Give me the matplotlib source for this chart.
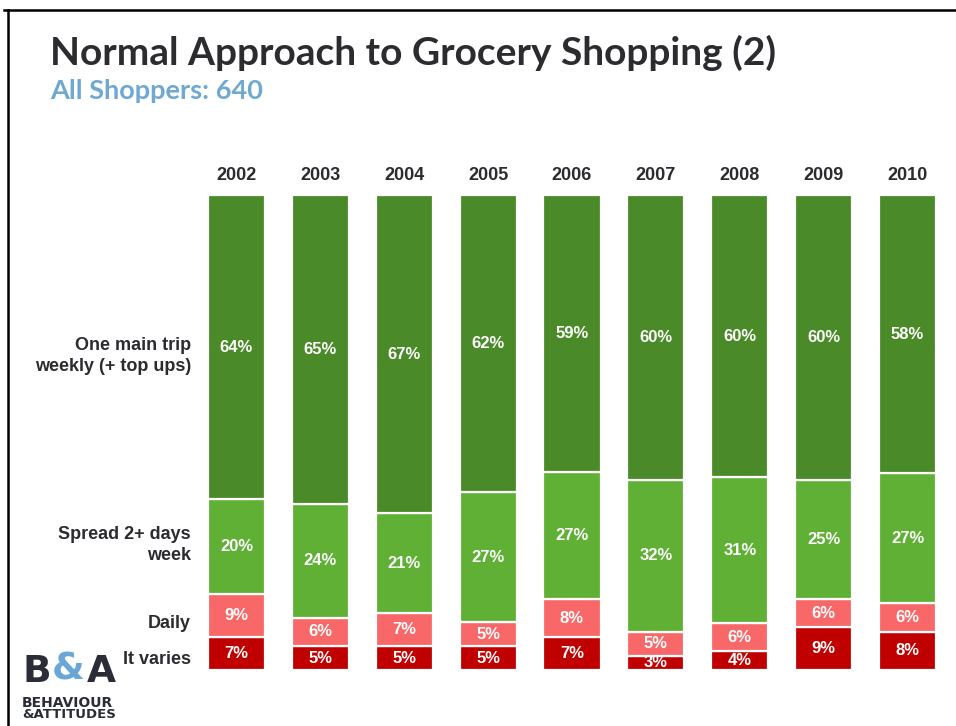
import numpy as np
import matplotlib
matplotlib.use('Agg')
import matplotlib.pyplot as plt
from matplotlib.lines import Line2D

plt.rcParams['font.family'] = ['Liberation Sans', 'DejaVu Sans']

years = ['2002', '2003', '2004', '2005', '2006', '2007', '2008', '2009', '2010']
it_varies = [7, 5, 5, 5, 7, 3, 4, 9, 8]
daily = [9, 6, 7, 5, 8, 5, 6, 6, 6]
spread = [20, 24, 21, 27, 27, 32, 31, 25, 27]
one_main = [64, 65, 67, 62, 59, 60, 60, 60, 58]

categories = ['It varies', 'Daily', 'Spread 2+ days\nweek', 'One main trip\nweekly (+ top ups)']
colors = ['#c00000', '#f86868', '#5fb034', '#4a8a28']

W, H = 956, 726
fig = plt.figure(figsize=(W / 100, H / 100), dpi=100)
fig.patch.set_facecolor('white')

# axes placed so bars line up with the slide
ax = fig.add_axes([194.5 / W, 56 / H, 755 / W, 475 / H])
ax.set_xlim(-0.5, 8.5)
ax.set_ylim(0, 100)
ax.axis('off')

series = np.array([it_varies, daily, spread, one_main], dtype=float)
totals = series.sum(axis=0)
shares = series / totals * 100  # 100% stacked

x = np.arange(len(years))
bottom = np.zeros(len(years))
for k in range(len(series)):
    bars = ax.bar(x, shares[k], 0.68, bottom=bottom, color=colors[k],
                  edgecolor='white', linewidth=1.6)
    for i, b in enumerate(bars):
        ax.text(x[i], bottom[i] + shares[k][i] / 2, '%d%%' % series[k][i],
                ha='center', va='center', color='white', fontsize=12,
                fontweight='bold')
    bottom += shares[k]

for i, yr in enumerate(years):
    ax.text(x[i], 104.2, yr, ha='center', va='center', fontsize=13,
            fontweight='bold', color='#2b2b30', clip_on=False)

# row labels on the left
label_y = [659, 624, 545, 356]
for lab, py in zip(categories, label_y):
    fig.text(191 / W, 1 - py / H, lab, ha='right', va='center', fontsize=13,
             fontweight='bold', color='#2b2b30', linespacing=1.25)

# title block
fig.text(50 / W, 1 - 53 / H, 'Normal Approach to Grocery Shopping (2)',
         ha='left', va='center', fontsize=28, fontweight='bold',
         family=['Lato', 'DejaVu Sans'], color='#2b2b30')
fig.text(50 / W, 1 - 91 / H, 'All Shoppers: 640', ha='left', va='center',
         fontsize=19.5, fontweight='bold', family=['Lato', 'DejaVu Sans'],
         color='#6fa8d0')

# slide frame
fig.add_artist(Line2D([4 / W, 1], [1 - 10 / H, 1 - 10 / H], color='black',
                      linewidth=1.8, transform=fig.transFigure))
fig.add_artist(Line2D([8 / W, 8 / W], [0, 1 - 10 / H], color='black',
                      linewidth=1.8, transform=fig.transFigure))

# logo
logo_font = ['DejaVu Sans']
fig.text(22 / W, 1 - 672 / H, 'B', ha='left', va='center', fontsize=27,
         fontweight='bold', family=logo_font, color='#2a2c38')
fig.text(68 / W, 1 - 670 / H, '&', ha='center', va='center', fontsize=27,
         fontweight='bold', family=logo_font, color='#6aa6d6')
fig.text(116 / W, 1 - 672 / H, 'A', ha='right', va='center', fontsize=27,
         fontweight='bold', family=logo_font, color='#2a2c38')
fig.text(22 / W, 1 - 703 / H, 'BEHAVIOUR', ha='left', va='center',
         fontsize=10, fontweight='bold', family=logo_font, color='#2a2c38')
fig.text(22 / W, 1 - 715 / H, '&ATTITUDES', ha='left', va='center',
         fontsize=9.5, fontweight='bold', family=logo_font, color='#2a2c38')

fig.savefig('out.png', dpi=100)
